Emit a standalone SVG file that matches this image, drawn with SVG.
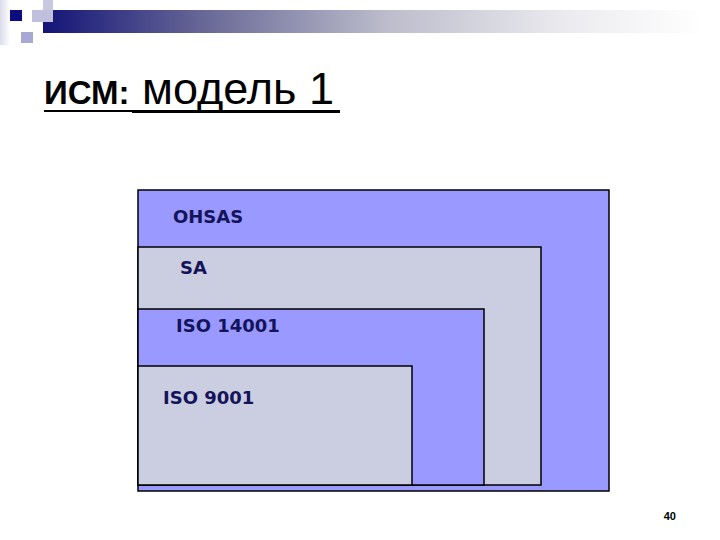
<svg xmlns="http://www.w3.org/2000/svg" width="720" height="540" viewBox="0 0 720 540">
<defs>
<linearGradient id="bar" x1="0" y1="0" x2="1" y2="0">
<stop offset="0" stop-color="#141478"/>
<stop offset="0.25" stop-color="#6a6a98"/>
<stop offset="0.52" stop-color="#bcbccc"/>
<stop offset="0.8" stop-color="#ececf0"/>
<stop offset="1" stop-color="#ffffff"/>
</linearGradient>
<linearGradient id="side" x1="0" y1="0" x2="1" y2="0">
<stop offset="0" stop-color="#dcdcec"/>
<stop offset="1" stop-color="#ffffff"/>
</linearGradient>
</defs>
<style>
.blue{fill:#9999ff;stroke:#000;stroke-width:1.5}
.grey{fill:#cbcde0;stroke:#000;stroke-width:1.5}
.lbl{font-family:"DejaVu Sans",Verdana,sans-serif;font-weight:bold;font-size:18px;fill:#14145a}
</style>
<rect width="720" height="540" fill="#ffffff"/>
<g id="header">
<rect x="0" y="0" width="10" height="45" fill="url(#side)"/>
<rect x="43" y="10" width="660" height="23" fill="url(#bar)"/>
<rect x="43" y="0" width="10" height="22" fill="#c8c8e0"/>
<rect x="32" y="10" width="21" height="12" fill="#c0c0dc"/>
<rect x="21" y="32" width="12" height="11" fill="#a8a8d4"/>
<rect x="10" y="10" width="12" height="11" fill="#0c0c80"/>
</g>
<g id="title">
<text x="44" y="104" font-family="'Liberation Sans',Arial,sans-serif" fill="#000"><tspan font-weight="bold" font-size="33">ИСМ:</tspan><tspan font-size="45"> модель 1</tspan></text>
<rect x="44" y="110" width="88" height="2" fill="#000"/>
<rect x="132" y="110" width="208" height="3" fill="#000"/>
</g>
<g id="ohsas">
<rect class="blue" x="138" y="190" width="471" height="301"/>
<text class="lbl" x="173" y="223">OHSAS</text>
</g>
<g id="sa">
<rect class="grey" x="138" y="247" width="403" height="238"/>
<text class="lbl" x="180" y="274">SA</text>
</g>
<g id="iso14001">
<rect class="blue" x="138" y="309" width="346" height="176"/>
<text class="lbl" x="176" y="332">ISO 14001</text>
</g>
<g id="iso9001">
<rect class="grey" x="138" y="366" width="274" height="119"/>
<text class="lbl" x="163" y="404">ISO 9001</text>
</g>
<g id="connectors"/>
<text x="676" y="520" text-anchor="end" font-family="'Liberation Sans',Arial,sans-serif" font-weight="bold" font-size="11" fill="#000">40</text>
</svg>
